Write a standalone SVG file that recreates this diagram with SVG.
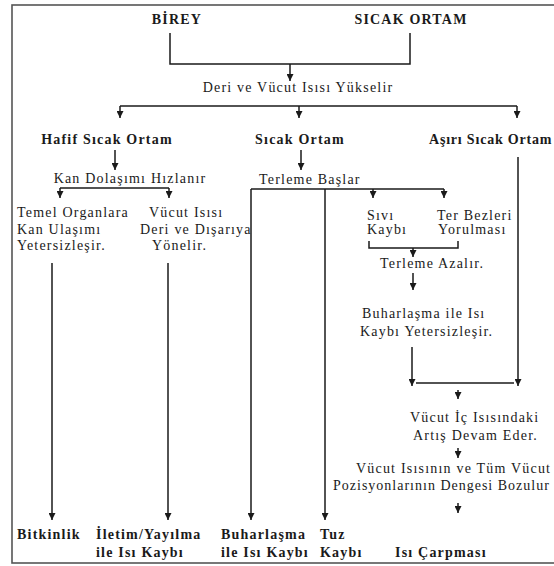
<svg xmlns="http://www.w3.org/2000/svg" width="554" height="566" viewBox="0 0 554 566">
<defs>
<marker id="ah" viewBox="0 0 10 10" refX="10" refY="5" markerWidth="8" markerHeight="7" markerUnits="userSpaceOnUse" orient="auto">
<path d="M0,0 L10,5 L0,10 z" fill="#1a1a1a"/>
</marker>
<style>
text{font-family:"Liberation Serif","Times New Roman",serif;font-size:14px;letter-spacing:1.2px;fill:#1a1a1a}
.b{font-weight:bold}
.m{text-anchor:middle}
.c line,.c polyline{stroke:#1a1a1a;stroke-width:1.5;fill:none}
.a{marker-end:url(#ah)}
</style>
</defs>
<rect x="0" y="0" width="554" height="566" fill="#ffffff"/>
<rect x="12" y="5" width="560" height="558" fill="none" stroke="#555" stroke-width="1.6"/>

<g class="c" id="connectors">
<polyline points="170,33 170,64 410,64 410,33"/>
<line class="a" x1="290" y1="64" x2="290" y2="81"/>
<line x1="120" y1="106" x2="517" y2="106"/>
<line class="a" x1="120" y1="106" x2="120" y2="118"/>
<line class="a" x1="299" y1="106" x2="299" y2="118"/>
<line class="a" x1="517" y1="106" x2="517" y2="118"/>
<line class="a" x1="115" y1="150" x2="115" y2="170"/>
<line class="a" x1="301" y1="150" x2="301" y2="170"/>
<line x1="60" y1="188" x2="169" y2="188"/>
<line class="a" x1="60" y1="188" x2="60" y2="198"/>
<line class="a" x1="169" y1="188" x2="169" y2="198"/>
<line x1="251" y1="189" x2="444" y2="189"/>
<line class="a" x1="373" y1="189" x2="373" y2="198"/>
<line class="a" x1="444" y1="189" x2="444" y2="198"/>
<line class="a" x1="251" y1="189" x2="251" y2="520"/>
<line class="a" x1="325" y1="189" x2="325" y2="520"/>
<line class="a" x1="52" y1="263" x2="52" y2="520"/>
<line class="a" x1="168" y1="263" x2="168" y2="520"/>
<polyline points="369,241 369,248 458,248 458,241"/>
<line class="a" x1="413" y1="248" x2="413" y2="257"/>
<line class="a" x1="413" y1="273" x2="413" y2="290"/>
<line class="a" x1="412" y1="347" x2="412" y2="386"/>
<line class="a" x1="518" y1="157" x2="518" y2="386"/>
<line x1="416" y1="383" x2="514" y2="383"/>
<line class="a" x1="458" y1="390" x2="458" y2="399"/>
<line class="a" x1="458" y1="448" x2="458" y2="458"/>
<line class="a" x1="458" y1="503" x2="458" y2="513"/>
</g>

<g id="birey"><text class="b m" x="177" y="24">BİREY</text></g>
<g id="sicak-ortam-top"><text class="b m" x="411" y="24">SICAK ORTAM</text></g>
<g id="deri"><text class="m" x="298" y="92">Deri ve Vücut Isısı Yükselir</text></g>
<g id="hafif"><text class="b m" x="107" y="144">Hafif Sıcak Ortam</text></g>
<g id="sicak"><text class="b m" x="300" y="144">Sıcak Ortam</text></g>
<g id="asiri"><text class="b" x="429" y="144" style="letter-spacing:0.8px">Aşırı Sıcak Ortam</text></g>
<g id="kan"><text class="m" x="130" y="183">Kan Dolaşımı Hızlanır</text></g>
<g id="terleme"><text x="259" y="184">Terleme Başlar</text></g>
<g id="temel"><text x="17" y="217">Temel Organlara</text><text x="17" y="233.5">Kan Ulaşımı</text><text x="17" y="250">Yetersizleşir.</text></g>
<g id="vucut-isisi"><text x="149" y="217">Vücut Isısı</text><text x="140" y="233.5">Deri ve Dışarıya</text><text x="152" y="250">Yönelir.</text></g>
<g id="sivi"><text x="367" y="220">Sıvı</text><text x="367" y="234">Kaybı</text></g>
<g id="ter"><text x="437" y="220">Ter Bezleri</text><text x="438" y="234">Yorulması</text></g>
<g id="azalir"><text x="380" y="268">Terleme Azalır.</text></g>
<g id="buhar-yetersiz"><text x="362" y="318">Buharlaşma ile Isı</text><text x="360" y="336">Kaybı Yetersizleşir.</text></g>
<g id="ic-isi"><text x="410" y="422">Vücut İç Isısındaki</text><text x="413" y="440">Artış Devam Eder.</text></g>
<g id="denge"><text x="356" y="473">Vücut Isısının ve Tüm Vücut</text><text x="333" y="490" style="letter-spacing:1px">Pozisyonlarının Dengesi Bozulur</text></g>
<g id="bitkinlik"><text class="b" x="17" y="539">Bitkinlik</text></g>
<g id="iletim"><text class="b" x="96" y="539">İletim/Yayılma</text><text class="b" x="96" y="557">ile Isı Kaybı</text></g>
<g id="buharlasma"><text class="b" x="221" y="539">Buharlaşma</text><text class="b" x="221" y="557">ile Isı Kaybı</text></g>
<g id="tuz"><text class="b" x="320" y="539">Tuz</text><text class="b" x="320" y="557">Kaybı</text></g>
<g id="carpma"><text class="b" x="395" y="557">Isı Çarpması</text></g>
</svg>
